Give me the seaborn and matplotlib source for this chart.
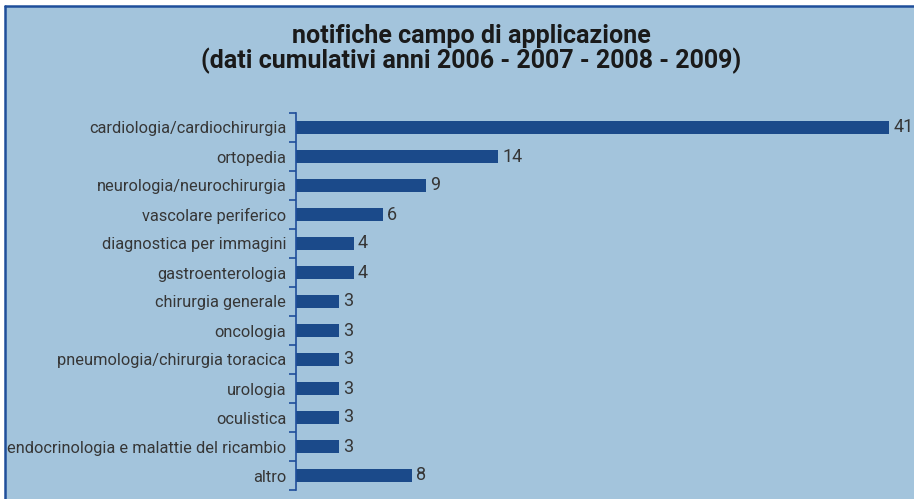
import numpy as np
import pandas as pd
import matplotlib
matplotlib.use("Agg")
import matplotlib.pyplot as plt
import seaborn as sns
from matplotlib.patches import Rectangle
from matplotlib.lines import Line2D

# -----------------------------
# Data
# -----------------------------
categories = [
    "cardiologia/cardiochirurgia",
    "ortopedia",
    "neurologia/neurochirurgia",
    "vascolare periferico",
    "diagnostica per immagini",
    "gastroenterologia",
    "chirurgia generale",
    "oncologia",
    "pneumologia/chirurgia toracica",
    "urologia",
    "oculistica",
    "endocrinologia e malattie del ricambio",
    "altro",
]
values = [41, 14, 9, 6, 4, 4, 3, 3, 3, 3, 3, 3, 8]

title = "notifiche campo di applicazione\n(dati cumulativi anni 2006 - 2007 - 2008 - 2009)"

df = pd.DataFrame({"categoria": categories, "notifiche": values})

# -----------------------------
# Style
# -----------------------------
bg = "#a3c4dc"
bar_color = "#1b4a8a"
line_color = "#1f4e9a"
text_color = "#363636"

sns.set_style("white")
plt.rcParams["font.family"] = ["Roboto", "DejaVu Sans"]

W, H = 914, 499
fig = plt.figure(figsize=(W / 100, H / 100), dpi=100)
fig.patch.set_facecolor("white")

# background panel with blue top/left border (behind the axes)
fig.patches.append(Rectangle((5 / W, 0), 1, 1 - 6 / H, transform=fig.transFigure,
                             facecolor=bg, edgecolor="none", zorder=-10))
fig.lines.append(Line2D([5 / W, 1], [1 - 6 / H, 1 - 6 / H], transform=fig.transFigure,
                        color=line_color, lw=1.8, zorder=-9))
fig.lines.append(Line2D([5 / W, 5 / W], [0, 1 - 6 / H], transform=fig.transFigure,
                        color=line_color, lw=1.8, zorder=-9))

ax = fig.add_axes([296 / W, 1 - 490 / H, 1 - 296 / W, (490 - 113) / H])
ax.set_facecolor("none")

sns.barplot(data=df, x="notifiche", y="categoria", orient="h", color=bar_color,
            width=0.42, saturation=1, linewidth=0, ax=ax)

ax.bar_label(ax.containers[0], padding=3, fontsize=13, color=text_color)

n = len(categories)
ax.set_xlim(0, 41 * (W - 296) / (889 - 296))
ax.set_ylim(n - 0.5, -0.5)
ax.set_xlabel("")
ax.set_ylabel("")
ax.set_xticks([])

ax.set_yticks(range(n))
ax.set_yticklabels(categories, fontsize=11.8, color=text_color)
ax.set_yticks(np.arange(-0.5, n), minor=True)
ax.tick_params(axis="y", which="major", length=0, pad=7)
ax.tick_params(axis="y", which="minor", left=True, length=5, width=1.2,
               color=line_color, direction="out")

for s in ["top", "right", "bottom"]:
    ax.spines[s].set_visible(False)
ax.spines["left"].set_color(line_color)
ax.spines["left"].set_linewidth(1.2)

fig.text(0.516, 1 - 49 / H, title, ha="center", va="center", fontsize=18,
         fontweight="bold", fontstretch="condensed", color="#1a1a1a",
         linespacing=0.98, family=["Roboto", "DejaVu Sans"])

fig.savefig("out.png", dpi=100, facecolor=fig.get_facecolor())
